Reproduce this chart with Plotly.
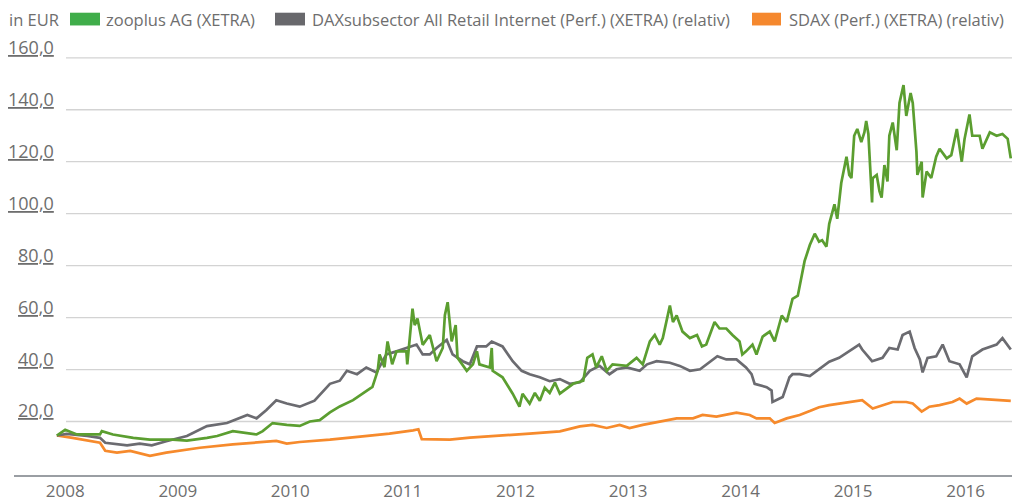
import plotly.graph_objects as go

# ---------------- data ----------------
green_dates = [
    "2008-06-05", "2008-07-02", "2008-08-09", "2008-10-23", "2008-10-29", "2008-12-04",
    "2009-02-08", "2009-04-03", "2009-06-16", "2009-08-01", "2009-10-05", "2009-11-07",
    "2009-12-28", "2010-02-13", "2010-03-15", "2010-04-04", "2010-05-06", "2010-06-21",
    "2010-08-02", "2010-09-04", "2010-10-06", "2010-11-08", "2010-12-10", "2011-01-22",
    "2011-02-24", "2011-03-26", "2011-04-12", "2011-04-18", "2011-05-04", "2011-05-14",
    "2011-05-29", "2011-06-12", "2011-07-14", "2011-07-17", "2011-08-03", "2011-08-10",
    "2011-08-19", "2011-09-05", "2011-09-28", "2011-10-20", "2011-11-09", "2011-11-16",
    "2011-11-25", "2011-12-08", "2011-12-21", "2011-12-27", "2012-01-26", "2012-02-15",
    "2012-02-28", "2012-03-07", "2012-04-10", "2012-04-16", "2012-04-19", "2012-05-21",
    "2012-06-23", "2012-07-15", "2012-07-25", "2012-08-17", "2012-09-03", "2012-09-19",
    "2012-10-05", "2012-10-21", "2012-11-07", "2012-11-23", "2013-01-05", "2013-02-07",
    "2013-02-20", "2013-03-09", "2013-03-21", "2013-04-08", "2013-04-24", "2013-05-13",
    "2013-06-28", "2013-07-30", "2013-08-19", "2013-09-11", "2013-09-27", "2013-10-13",
    "2013-10-23", "2013-11-15", "2013-11-25", "2013-12-07", "2013-12-26", "2014-01-19",
    "2014-02-11", "2014-02-27", "2014-03-13", "2014-04-09", "2014-04-25", "2014-05-17",
    "2014-06-06", "2014-06-29", "2014-07-08", "2014-07-20", "2014-08-10", "2014-08-23",
    "2014-09-12", "2014-10-05", "2014-10-21", "2014-11-13", "2014-11-29", "2014-12-18",
    "2015-01-04", "2015-01-26", "2015-02-12", "2015-02-28", "2015-03-14", "2015-03-24",
    "2015-04-07", "2015-04-16", "2015-05-03", "2015-05-12", "2015-05-25", "2015-06-11",
    "2015-06-20", "2015-06-27", "2015-07-06", "2015-07-16", "2015-07-29", "2015-08-08",
    "2015-08-14", "2015-08-21", "2015-09-02", "2015-09-04", "2015-09-17", "2015-09-26",
    "2015-10-03", "2015-10-12", "2015-10-22", "2015-10-28", "2015-11-08", "2015-11-21",
    "2015-11-30", "2015-12-13", "2015-12-22", "2016-01-05", "2016-01-12", "2016-01-24",
    "2016-01-27", "2016-02-10", "2016-02-13", "2016-02-26", "2016-03-12", "2016-03-28",
    "2016-04-08", "2016-05-01", "2016-05-16", "2016-06-03", "2016-06-19", "2016-06-28",
    "2016-07-14", "2016-07-23", "2016-08-16", "2016-08-25", "2016-09-18", "2016-10-10",
    "2016-10-29", "2016-11-15", "2016-11-25",
]
green_values = [
    14.6, 16.8, 15.0, 15.0, 16.3, 15.0,
    13.7, 13.0, 13.0, 12.6, 13.7, 14.4,
    16.3, 15.6, 15.0, 16.3, 19.4, 18.7,
    18.3, 20.0, 20.5, 23.5, 25.8, 28.2,
    30.7, 33.3, 39.5, 45.8, 40.9, 50.8,
    42.0, 47.0, 47.0, 42.0, 63.4, 57.1,
    59.6, 49.5, 53.3, 43.2, 48.3, 60.9,
    65.9, 50.8, 57.1, 44.5, 39.5, 42.0,
    47.0, 42.0, 40.8, 48.3, 39.5, 37.0,
    30.7, 25.7, 30.7, 26.9, 31.0, 28.0,
    33.0, 31.0, 35.0, 30.7, 34.5, 35.7,
    44.5, 45.8, 40.8, 45.1, 39.5, 42.0,
    41.4, 44.5, 42.0, 50.8, 53.3, 49.6,
    52.1, 64.6, 58.3, 60.8, 54.6, 52.1,
    53.3, 48.9, 49.6, 58.3, 55.8, 55.8,
    53.3, 50.8, 45.8, 47.0, 49.6, 45.8,
    52.7, 54.6, 50.8, 60.8, 58.3, 67.2,
    68.4, 81.7, 87.9, 92.3, 89.2, 89.8,
    87.3, 96.1, 103.6, 98.0, 111.8, 121.9,
    114.9, 113.7, 130.0, 132.6, 127.5, 131.3,
    135.7, 130.7, 104.3, 113.7, 114.9, 108.7,
    106.2, 118.7, 112.4, 130.0, 135.1, 124.4,
    142.6, 149.5, 137.6, 146.4, 142.6, 123.8,
    114.9, 120.0, 106.2, 116.2, 113.7, 121.9,
    125.0, 121.3, 122.5, 132.6, 120.0, 128.7,
    138.2, 130.0, 130.0, 125.0, 131.3, 130.0,
    130.7, 128.8, 121.3,
]

gray_dates = [
    "2008-06-05", "2008-07-07", "2008-09-11", "2008-10-23", "2008-11-09", "2009-01-19",
    "2009-03-01", "2009-04-09", "2009-05-26", "2009-08-01", "2009-10-05", "2009-12-09",
    "2010-02-13", "2010-03-15", "2010-04-16", "2010-05-18", "2010-06-21", "2010-08-02",
    "2010-09-19", "2010-11-08", "2010-12-10", "2011-01-02", "2011-02-04", "2011-03-06",
    "2011-04-08", "2011-05-10", "2011-06-12", "2011-07-14", "2011-08-16", "2011-09-05",
    "2011-09-28", "2011-10-20", "2011-11-22", "2011-12-11", "2012-01-13", "2012-02-05",
    "2012-02-28", "2012-03-29", "2012-04-16", "2012-05-21", "2012-06-23", "2012-07-22",
    "2012-08-17", "2012-09-19", "2012-10-21", "2012-11-23", "2012-12-25", "2013-01-27",
    "2013-02-28", "2013-04-01", "2013-05-03", "2013-05-26", "2013-06-28", "2013-08-09",
    "2013-09-02", "2013-10-03", "2013-11-15", "2013-12-17", "2014-01-19", "2014-02-21",
    "2014-03-23", "2014-04-18", "2014-05-17", "2014-06-19", "2014-07-20", "2014-08-07",
    "2014-08-17", "2014-09-25", "2014-10-11", "2014-10-14", "2014-11-16", "2014-12-08",
    "2014-12-18", "2015-01-10", "2015-02-12", "2015-03-14", "2015-04-16", "2015-05-18",
    "2015-06-20", "2015-07-22", "2015-08-01", "2015-09-02", "2015-10-06", "2015-10-28",
    "2015-11-24", "2015-12-10", "2016-01-02", "2016-01-18", "2016-02-04", "2016-02-13",
    "2016-02-29", "2016-03-28", "2016-04-18", "2016-05-10", "2016-06-12", "2016-07-05",
    "2016-07-23", "2016-08-25", "2016-10-10", "2016-10-29", "2016-11-25",
]
gray_values = [
    14.6, 15.2, 14.4, 13.7, 11.8, 10.8,
    11.5, 10.8, 12.4, 14.4, 18.2, 19.4,
    22.5, 21.2, 24.4, 28.2, 26.9, 25.7,
    28.0, 34.5, 35.7, 39.5, 38.2, 40.8,
    38.9, 45.8, 47.0, 48.3, 49.6, 45.8,
    45.8, 48.3, 51.4, 45.8, 43.2, 42.0,
    48.9, 48.9, 50.8, 48.9, 43.2, 39.5,
    38.2, 37.0, 35.5, 36.3, 34.5, 35.1,
    39.5, 41.4, 38.2, 40.1, 40.8, 39.5,
    42.0, 43.2, 42.6, 41.4, 39.5, 40.1,
    42.6, 45.1, 43.9, 43.9, 40.8, 38.2,
    34.5, 33.2, 31.9, 27.5, 29.4, 37.0,
    38.2, 38.2, 37.5, 40.0, 43.0, 44.5,
    47.0, 49.6, 47.7, 43.2, 44.5, 48.3,
    47.7, 53.3, 54.6, 48.3, 43.9, 38.9,
    44.5, 45.1, 49.6, 43.2, 42.0, 37.0,
    45.1, 47.7, 49.6, 52.1, 47.7,
]

orange_dates = [
    "2008-06-05", "2008-07-26", "2008-10-23", "2008-11-09", "2008-12-17", "2009-01-29",
    "2009-04-03", "2009-05-26", "2009-09-12", "2009-12-28", "2010-05-18", "2010-06-21",
    "2010-08-02", "2010-11-08", "2011-02-14", "2011-05-20", "2011-08-05", "2011-08-22",
    "2011-09-02", "2011-12-02", "2012-02-05", "2012-05-12", "2012-08-17", "2012-11-23",
    "2013-01-27", "2013-03-09", "2013-04-24", "2013-06-05", "2013-07-07", "2013-08-19",
    "2013-10-13", "2013-12-07", "2014-01-29", "2014-03-01", "2014-04-15", "2014-06-19",
    "2014-08-01", "2014-08-23", "2014-10-05", "2014-10-21", "2014-11-29", "2015-01-10",
    "2015-02-12", "2015-03-14", "2015-04-16", "2015-05-18", "2015-06-20", "2015-08-01",
    "2015-09-04", "2015-10-06", "2015-11-08", "2015-12-22", "2016-01-12", "2016-02-10",
    "2016-03-06", "2016-04-08", "2016-05-20", "2016-06-12", "2016-07-05", "2016-08-06",
    "2016-09-18", "2016-11-12", "2016-11-25",
]
orange_values = [
    14.6, 13.7, 11.8, 8.7, 8.0, 8.7,
    6.8, 8.0, 9.9, 11.2, 12.5, 11.5,
    12.1, 13.0, 14.2, 15.3, 16.6, 17.0,
    13.2, 13.0, 13.8, 14.5, 15.3, 16.2,
    18.1, 18.7, 17.5, 18.7, 17.5, 18.7,
    20.0, 21.2, 21.2, 22.5, 21.9, 23.4,
    22.5, 21.2, 21.2, 19.4, 21.2, 22.5,
    24.0, 25.5, 26.3, 26.9, 27.5, 28.2,
    25.0, 26.3, 27.5, 27.5, 26.9, 23.8,
    25.7, 26.3, 27.5, 28.8, 26.9, 28.8,
    28.4, 27.9, 27.9,
]

series_names = [
    "zooplus AG (XETRA)",
    "DAXsubsector All Retail Internet (Perf.) (XETRA) (relativ)",
    "SDAX (Perf.) (XETRA) (relativ)",
]
y_ticks = [20, 40, 60, 80, 100, 120, 140, 160]
unit_label = "in EUR"

# ---------------- styling ----------------
GREEN_LINE = "#5b9e30"
GREEN_KEY = "#40ad4a"
GRAY_LINE = "#6b6b70"
GRAY_KEY = "#68686c"
ORANGE_LINE = "#f68a2c"
ORANGE_KEY = "#f5882e"
TEXT = "#6e6e6e"
FONT = "Open Sans, Lato, sans-serif"

W, H = 1012, 502
L, R, T, B = 14, 0, 50, 19
PW, PH = W - L - R, H - T - B


def px(x):
    return (x - L) / PW


def py(y):
    return (H - B - y) / PH


fig = go.Figure()
fig.add_trace(go.Scatter(x=orange_dates, y=orange_values, mode="lines", name=series_names[2],
                         line=dict(color=ORANGE_LINE, width=2.7), showlegend=False))
fig.add_trace(go.Scatter(x=gray_dates, y=gray_values, mode="lines", name=series_names[1],
                         line=dict(color=GRAY_LINE, width=2.7), showlegend=False))
fig.add_trace(go.Scatter(x=green_dates, y=green_values, mode="lines", name=series_names[0],
                         line=dict(color=GREEN_LINE, width=2.7), showlegend=False))

shapes = []
annotations = []
for v in y_ticks:
    shapes.append(dict(type="line", xref="paper", yref="y", x0=px(66), x1=1, y0=v, y1=v,
                       line=dict(color="#d3d3d3", width=1.3), layer="below"))
    lab = f"{v:.1f}".replace(".", ",")
    annotations.append(dict(
        xref="paper", yref="y", x=px(56), y=v, xanchor="right", yanchor="bottom",
        yshift=-3, showarrow=False,
        text=f'<span style="text-decoration:underline;text-decoration-thickness:1.5px;text-underline-offset:2px">{lab}</span>',
        font=dict(family=FONT, size=18, color=TEXT)))

# legend (manual)
annotations.append(dict(xref="paper", yref="paper", x=px(7), y=py(19), xanchor="left",
                        yanchor="middle", showarrow=False, text=unit_label,
                        font=dict(family=FONT, size=16.5, color=TEXT)))
legend_items = [(70, 100, 104, GREEN_KEY, series_names[0]),
                (275, 305, 310, GRAY_KEY, series_names[1]),
                (752, 781, 787, ORANGE_KEY, series_names[2])]
for x0, x1, xt, col, name in legend_items:
    shapes.append(dict(type="rect", xref="paper", yref="paper", x0=px(x0), x1=px(x1),
                       y0=py(25), y1=py(12), fillcolor=col, line=dict(width=0)))
    annotations.append(dict(xref="paper", yref="paper", x=px(xt), y=py(19), xanchor="left",
                            yanchor="middle", showarrow=False, text=name,
                            font=dict(family=FONT, size=16.5, color=TEXT)))

fig.update_layout(
    width=W, height=H,
    margin=dict(l=L, r=R, t=T, b=B, pad=0),
    paper_bgcolor="white", plot_bgcolor="white",
    showlegend=False,
    shapes=shapes, annotations=annotations,
    xaxis=dict(type="date", range=["2008-01-18", "2016-11-29"], showgrid=False, zeroline=False,
               showline=True, linecolor="#9a9ea3", linewidth=1.6, ticks="",
               dtick="M12", tickformat="%Y", ticklabelmode="period",
               tickfont=dict(family=FONT, size=17, color=TEXT)),
    yaxis=dict(range=[-0.6, 163.0], showgrid=False, zeroline=False, showline=False,
               showticklabels=False, ticks=""),
)

fig.write_html(
    "out.html",
    config={"displayModeBar": False},
    post_script="document.body.style.margin='0';document.body.style.padding='0';"
                "document.documentElement.style.overflow='hidden';",
)
